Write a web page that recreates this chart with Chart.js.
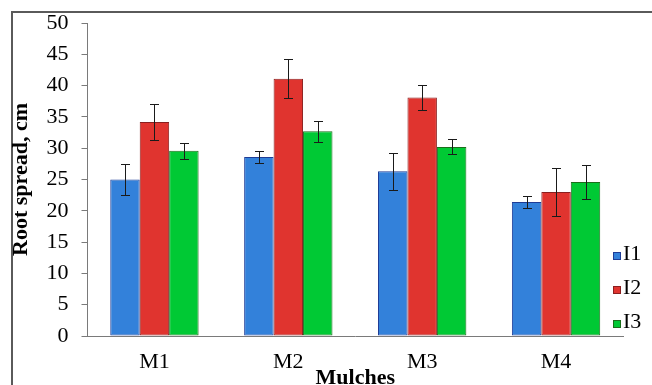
<!DOCTYPE html>
<html>
<head>
<meta charset="utf-8">
<script src="https://cdn.jsdelivr.net/npm/chart.js@4"></script>
<style>
  html, body { margin: 0; padding: 0; background: #fff; }
  canvas { display: block; }
</style>
</head>
<body>
<canvas id="rootChart" width="652" height="385"></canvas>
<script>
// root spread by mulch and irrigation level
const categories = ['M1', 'M2', 'M3', 'M4'];
const seriesNames = ['I1', 'I2', 'I3'];
const i1Values = [25.0, 28.6, 26.3, 21.4];
const i2Values = [34.2, 41.1, 38.1, 23.0];
const i3Values = [29.6, 32.7, 30.2, 24.6];
const i1Errors = [2.4, 1.0, 3.0, 1.0];
const i2Errors = [2.9, 3.1, 2.0, 3.9];
const i3Errors = [1.3, 1.7, 1.2, 2.7];
const yTicks = [0, 5, 10, 15, 20, 25, 30, 35, 40, 45, 50];

const serif = '"Liberation Serif", "Times New Roman", serif';

const fills = ['#3381da', '#e0342f', '#00c934'];
const edges = ['#1e3c96', '#8a1f1f', '#1b6e1b'];

// outer frame like the exported picture
const framePlugin = {
  id: 'frame',
  beforeDraw(chart) {
    const ctx = chart.ctx;
    ctx.save();
    ctx.strokeStyle = '#5a5a5a';
    ctx.lineWidth = 2;
    ctx.beginPath();
    ctx.moveTo(12, 385);
    ctx.lineTo(12, 12);
    ctx.lineTo(652, 12);
    ctx.stroke();
    ctx.restore();
  }
};

// error bars from the y scale
const errorBarPlugin = {
  id: 'errorBars',
  afterDatasetsDraw(chart) {
    const ctx = chart.ctx;
    const yScale = chart.scales.y;
    ctx.save();
    ctx.strokeStyle = '#1a1a1a';
    ctx.lineWidth = 1;
    chart.data.datasets.forEach((ds, di) => {
      const meta = chart.getDatasetMeta(di);
      meta.data.forEach((bar, i) => {
        const v = ds.data[i];
        const e = ds.errors[i];
        const x = Math.round(bar.x) + 0.5;
        const yTop = Math.round(yScale.getPixelForValue(v + e)) + 0.5;
        const yBot = Math.round(yScale.getPixelForValue(v - e)) + 0.5;
        ctx.beginPath();
        ctx.moveTo(x, yTop);
        ctx.lineTo(x, yBot);
        ctx.moveTo(x - 4.5, yTop);
        ctx.lineTo(x + 4.5, yTop);
        ctx.moveTo(x - 4.5, yBot);
        ctx.lineTo(x + 4.5, yBot);
        ctx.stroke();
      });
    });
    ctx.restore();
  }
};

// legend at lower right, overlapping the axis end
const legendPlugin = {
  id: 'sideLegend',
  afterDraw(chart) {
    const ctx = chart.ctx;
    ctx.save();
    ctx.font = '22px ' + serif;
    ctx.textBaseline = 'alphabetic';
    chart.data.datasets.forEach((ds, i) => {
      const base = 260 + i * 34;
      ctx.fillStyle = ds.backgroundColor;
      ctx.fillRect(613, base - 8, 8, 8);
      ctx.strokeStyle = ds.borderColor;
      ctx.lineWidth = 1;
      ctx.strokeRect(613.5, base - 7.5, 7, 7);
      ctx.fillStyle = '#000';
      ctx.fillText(ds.label, 623, base);
    });
    ctx.restore();
  }
};

const ctx = document.getElementById('rootChart').getContext('2d');
new Chart(ctx, {
  type: 'bar',
  data: {
    labels: categories,
    datasets: [
      { label: seriesNames[0], data: i1Values, errors: i1Errors },
      { label: seriesNames[1], data: i2Values, errors: i2Errors },
      { label: seriesNames[2], data: i3Values, errors: i3Errors }
    ].map((ds, i) => Object.assign(ds, {
      backgroundColor: fills[i],
      borderColor: edges[i],
      borderWidth: 1,
      borderSkipped: false,
      categoryPercentage: 0.66,
      barPercentage: 1
    }))
  },
  options: {
    responsive: false,
    animation: false,
    devicePixelRatio: 1,
    layout: { padding: { left: 10, right: 29, top: 23, bottom: 0 } },
    plugins: {
      legend: { display: false },
      tooltip: { enabled: false }
    },
    scales: {
      x: {
        grid: { display: false },
        border: { color: '#7a7a7a', width: 1 },
        ticks: { color: '#000', font: { family: serif, size: 22 }, padding: 5 },
        title: {
          display: true,
          text: 'Mulches',
          color: '#000',
          font: { family: serif, size: 22, weight: 'bold', lineHeight: 1 },
          padding: { top: 0, bottom: -4 }
        },
        afterFit(scale) { scale.height = 49; }
      },
      y: {
        min: 0,
        max: 50,
        afterBuildTicks(scale) { scale.ticks = yTicks.map(v => ({ value: v })); },
        grid: { drawOnChartArea: false, drawTicks: true, tickLength: 6, color: '#7a7a7a' },
        border: { color: '#7a7a7a', width: 1 },
        ticks: { color: '#000', font: { family: serif, size: 22, lineHeight: 1 }, padding: 13 },
        title: {
          display: true,
          text: 'Root spread, cm',
          color: '#000',
          font: { family: serif, size: 22, weight: 'bold', lineHeight: 1 },
          padding: { top: 0, bottom: 0 }
        },
        afterFit(scale) {
          scale.width = 77.5;
          scale.paddingTop = 11;
        }
      }
    }
  },
  plugins: [framePlugin, errorBarPlugin, legendPlugin]
});
</script>
</body>
</html>
